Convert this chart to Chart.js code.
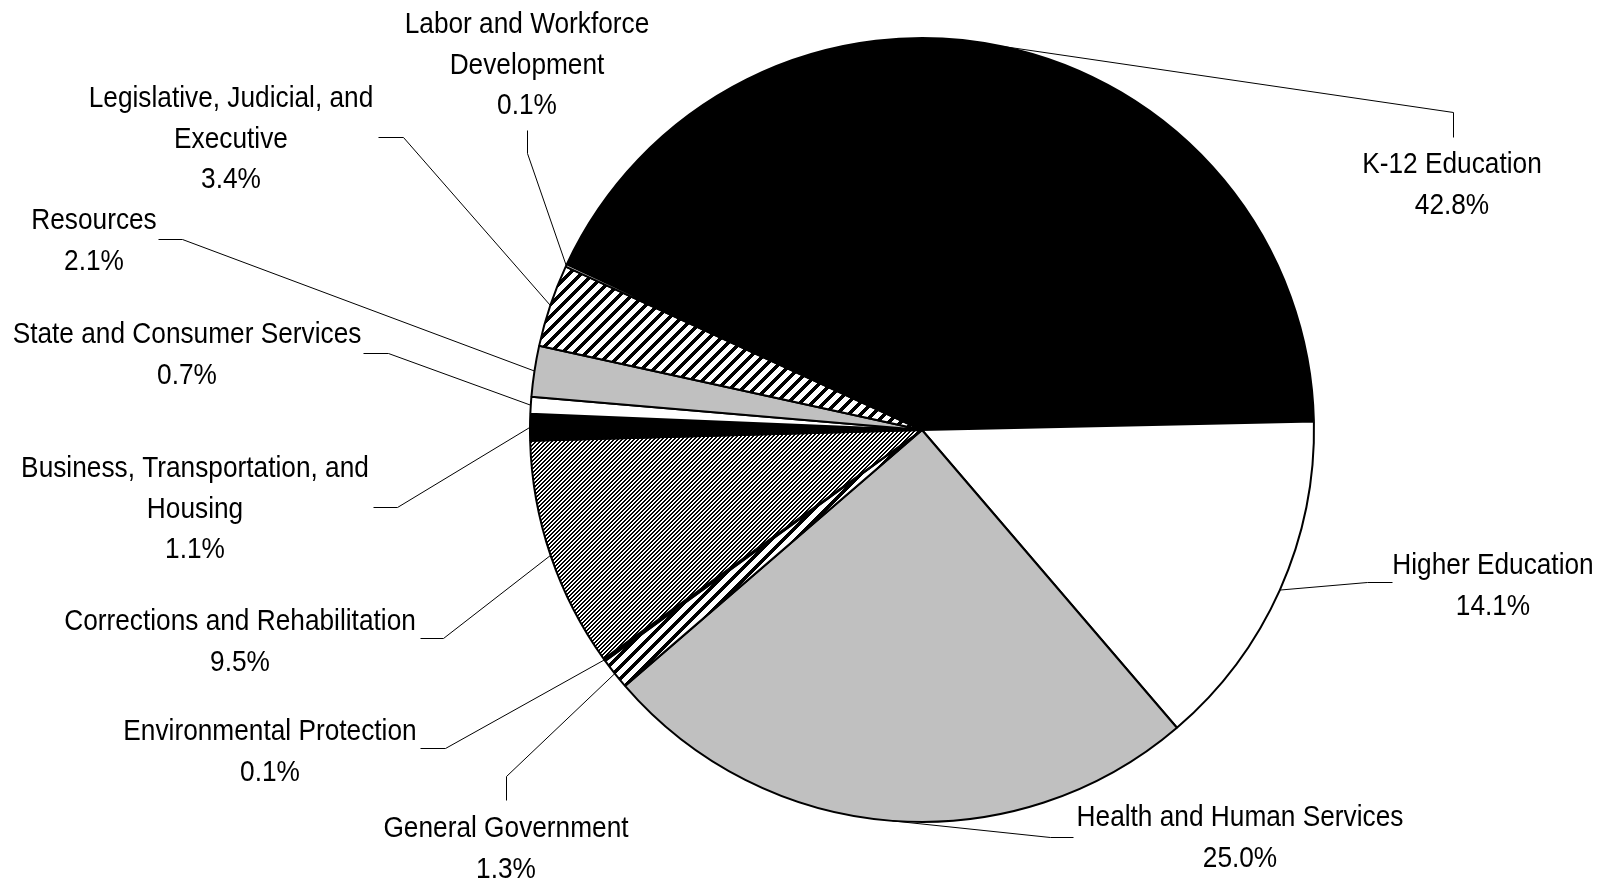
<!DOCTYPE html>
<html>
<head>
<meta charset="utf-8">
<script src="https://cdn.jsdelivr.net/npm/chart.js@4.4.1/dist/chart.umd.min.js"></script>
<style>
  html, body { margin: 0; padding: 0; background: #fff; }
  #chart { display: block; }
</style>
</head>
<body>
<canvas id="chart" width="1600" height="883"></canvas>
<script>
// budget shares, clockwise from the top left edge of K-12
const categories = [
    "K-12 Education",
    "Higher Education",
    "Health and Human Services",
    "General Government",
    "Environmental Protection",
    "Corrections and Rehabilitation",
    "Business, Transportation, and\nHousing",
    "State and Consumer Services",
    "Resources",
    "Legislative, Judicial, and\nExecutive",
    "Labor and Workforce\nDevelopment"
];
const shares = [42.8, 14.1, 25.0, 1.3, 0.1, 9.5, 1.1, 0.7, 2.1, 3.4, 0.1];

// where each label sits and how its leader line bends
const labelLayout = [
    {x: 1452, y: 165, elbow: [1453, 112], end: [1453, 137]},
    {x: 1493, y: 566, elbow: [1367, 582], end: [1392, 582]},
    {x: 1240, y: 818, elbow: [1050, 837], end: [1073, 837]},
    {x: 506, y: 829, elbow: [506, 776], end: [506, 800]},
    {x: 270, y: 732, elbow: [445, 748], end: [420, 748]},
    {x: 240, y: 622, elbow: [443, 638], end: [420, 638]},
    {x: 195, y: 469, elbow: [397, 507], end: [373, 507]},
    {x: 187, y: 335, elbow: [388, 353], end: [363, 353]},
    {x: 94, y: 221, elbow: [182, 239], end: [158, 239]},
    {x: 231, y: 99, elbow: [403, 137], end: [378, 137]},
    {x: 527, y: 25, elbow: [527, 153], end: [527, 130]}
];
const lineGap = 40.5;
// no narrow font installed, so squeeze a normal one
const narrow = 0.875;

function stripes(size, width) {
    let c = document.createElement("canvas");
    c.width = size;
    c.height = size;
    let g = c.getContext("2d");
    let img = g.createImageData(size, size);
    for (let y = 0; y < size; y++) {
        for (let x = 0; x < size; x++) {
            let v = ((x + y) % size) < width ? 0 : 255;
            let k = (y * size + x) * 4;
            img.data[k] = v; img.data[k + 1] = v; img.data[k + 2] = v; img.data[k + 3] = 255;
        }
    }
    g.putImageData(img, 0, 0);
    return g.createPattern(c, "repeat");
}

let canvas = document.getElementById("chart");
let wide = stripes(12, 5);
let fine = stripes(4, 2);

let fills = ["#000000", "#ffffff", "#c0c0c0", wide, "#000000", fine,
             "#000000", "#ffffff", "#c0c0c0", wide, "#ffffff"];

const leaders = {
    id: "leaders",
    afterDatasetsDraw(chart) {
        let c = chart.ctx;
        let arcs = chart.getDatasetMeta(0).data;
        c.save();
        c.strokeStyle = "#000";
        c.lineWidth = 1;
        c.fillStyle = "#000";
        c.font = '30px "Liberation Sans Narrow", "Liberation Sans", Arial, sans-serif';
        c.textAlign = "center";
        c.textBaseline = "middle";
        arcs.forEach(function (arc, i) {
            let p = arc.getProps(["x", "y", "startAngle", "endAngle", "outerRadius"], true);
            let mid = (p.startAngle + p.endAngle) / 2;
            let ax = p.x + Math.cos(mid) * p.outerRadius;
            let ay = p.y + Math.sin(mid) * p.outerRadius;
            let L = labelLayout[i];
            c.beginPath();
            c.moveTo(ax, ay);
            c.lineTo(L.elbow[0] + 0.5, L.elbow[1] + 0.5);
            c.lineTo(L.end[0] + 0.5, L.end[1] + 0.5);
            c.stroke();
            let lines = categories[i].split("\n");
            lines.push(shares[i].toFixed(1) + "%");
            lines.forEach(function (t, k) {
                c.save();
                c.translate(L.x, L.y + k * lineGap);
                c.scale(narrow, 1);
                c.fillText(t, 0, 0);
                c.restore();
            });
        });
        c.restore();
    }
};

new Chart(canvas, {
    type: "pie",
    data: {
        labels: categories,
        datasets: [{
            data: shares,
            backgroundColor: fills,
            borderColor: "#000000",
            borderWidth: 2,
            radius: 392
        }]
    },
    options: {
        responsive: false,
        animation: false,
        events: [],
        rotation: -65,
        layout: {padding: {top: 38, bottom: 61, left: 530, right: 286}},
        plugins: {
            legend: {display: false},
            tooltip: {enabled: false}
        }
    },
    plugins: [leaders]
});
</script>
</body>
</html>
